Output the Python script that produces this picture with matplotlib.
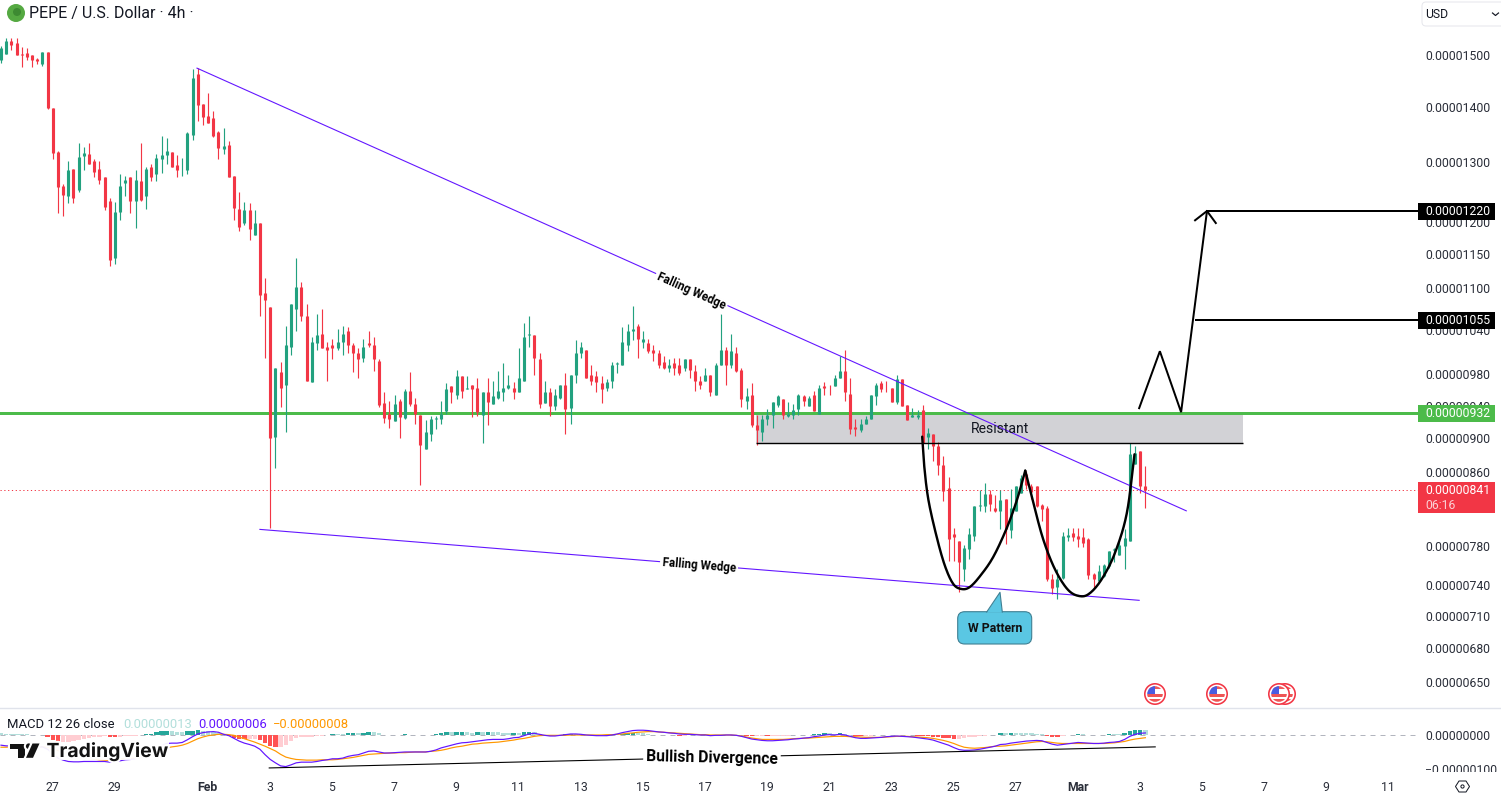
import numpy as np
import matplotlib
matplotlib.use("Agg")
import matplotlib.pyplot as plt
import matplotlib.patheffects as pe
from matplotlib.patches import Circle, Rectangle, Polygon, FancyBboxPatch
from matplotlib.ticker import NullLocator, FixedFormatter
from matplotlib.transforms import Bbox, ScaledTranslation

plt.rcParams['font.family'] = ['Roboto', 'DejaVu Sans']

# Prices in units of 0.00000001 USD, one entry per 4h bar
opens = [1492,1505,1531,1527,1504,1506,1502,1494,1484,1508,
1399,1320,1262,1245,1291,1255,1313,1316,1305,1291,
1277,1236,1146,1218,1267,1276,1236,1270,1245,1294,
1281,1308,1315,1320,1297,1288,1289,1351,1465,1407,
1385,1381,1356,1326,1333,1279,1223,1201,1222,1182,
1201,1093,1073,903,984,967,1018,1070,1102,1061,
971,1023,1036,1018,1020,1016,1025,1039,1021,1009,
1003,1023,1020,999,945,931,922,947,926,960,
943,929,888,906,925,924,935,966,954,979,
962,967,963,929,959,943,951,958,964,964,
959,973,1034,1034,1002,945,958,941,951,967,
938,981,1010,1013,980,979,970,964,973,995,
994,1021,1039,1046,1024,1023,1014,1010,998,990,
996,994,989,1001,985,973,973,980,954,993,
1013,993,1010,987,947,954,917,909,925,930,
942,950,928,929,937,953,941,955,931,966,
968,966,976,985,956,915,911,918,925,953,
970,964,964,946,975,942,927,927,936,903,
906,892,870,843,793,786,757,777,791,823,
823,837,821,818,831,797,818,838,859,846,
845,824,821,747,739,748,790,794,791,790,
788,752,745,750,760,776,771,781,786,871,
886,846]
highs = [1521,1537,1537,1537,1519,1517,1502,1496,1508,1508,
1400,1322,1265,1305,1291,1335,1329,1335,1308,1305,
1277,1242,1235,1282,1279,1276,1288,1335,1293,1299,
1316,1349,1344,1320,1315,1310,1356,1475,1477,1407,
1428,1394,1358,1362,1340,1279,1252,1235,1233,1222,
1201,1116,1073,990,997,1047,1078,1146,1110,1078,
1032,1063,1070,1025,1028,1042,1046,1045,1023,1016,
1029,1039,1032,1002,958,947,954,949,962,984,
951,929,923,928,928,947,970,966,987,979,
979,967,976,959,976,972,985,996,980,971,
1016,1051,1060,1034,1010,972,963,962,967,983,
981,1027,1025,1014,993,985,979,975,997,997,
1045,1049,1075,1049,1039,1029,1021,1014,1005,1001,
1003,1003,1002,1001,993,979,989,980,996,1068,
1018,1035,1018,989,963,970,929,929,937,946,
955,950,946,943,956,954,953,960,967,971,
968,981,1006,1014,976,925,925,928,954,970,
973,972,964,980,975,942,938,936,942,913,
906,897,880,856,800,786,782,800,823,841,
849,841,836,841,831,842,845,858,863,848,
846,826,823,752,757,795,800,800,800,799,
789,753,761,762,775,778,785,798,895,892,
886,868]
lows = [1486,1505,1512,1502,1478,1492,1478,1484,1481,1398,
1308,1217,1212,1233,1233,1252,1288,1299,1277,1264,
1222,1134,1137,1206,1245,1217,1193,1236,1223,1270,
1270,1284,1299,1293,1276,1279,1281,1342,1376,1369,
1372,1346,1307,1316,1277,1206,1188,1198,1174,1182,
1060,1003,800,866,939,909,1007,1040,1054,972,
971,1014,1016,973,1002,1014,1007,1009,984,977,
998,1018,985,939,920,914,922,901,924,941,
918,847,888,898,912,918,931,945,950,951,
962,927,928,895,917,943,950,947,962,949,
959,973,1018,980,938,945,928,936,949,906,
918,970,1003,977,967,958,945,960,964,983,
994,1012,1027,1003,1016,1010,999,989,988,984,
981,981,985,976,960,962,972,953,954,993,
968,989,984,939,937,915,893,898,917,913,
939,924,927,924,929,941,941,935,931,955,
955,966,976,947,906,904,909,918,925,942,
959,959,946,943,941,923,927,924,895,888,
874,858,829,765,765,734,745,767,786,818,
817,818,817,798,783,789,818,838,842,831,
822,807,745,732,727,747,786,786,780,780,
747,738,745,749,758,764,771,757,786,871,
838,821]
closes = [1517,1531,1523,1502,1502,1498,1492,1490,1508,1399,
1318,1260,1247,1289,1242,1311,1318,1299,1286,1272,
1226,1143,1218,1262,1272,1236,1272,1238,1291,1277,
1310,1315,1322,1293,1288,1289,1353,1457,1405,1383,
1372,1349,1327,1331,1277,1225,1195,1222,1191,1200,
1091,1084,901,990,964,1021,1078,1103,1060,972,
1024,1034,1016,1014,1016,1024,1035,1020,1010,1001,
1018,1020,1001,942,926,924,943,927,960,943,
931,893,909,924,926,931,962,958,979,960,
964,962,933,959,946,953,960,964,967,958,
977,1032,1035,1003,943,958,941,954,967,937,
980,1009,1018,977,972,971,962,971,994,996,
1024,1040,1043,1029,1028,1012,1009,993,990,994,
990,983,1002,987,973,967,980,958,993,1014,
993,1012,985,949,953,917,911,925,930,946,
953,930,931,936,955,947,951,935,964,964,
967,976,985,958,912,912,919,924,954,967,
962,963,946,975,941,923,929,929,895,907,
892,869,840,788,790,764,778,793,823,824,
837,826,818,830,798,821,845,855,847,839,
823,820,747,738,747,791,792,790,788,784,
751,747,755,761,775,777,782,789,882,884,
845,841]

macd_line = [-30,-32,-32,-33,-33,-33,-34,-35,-35,-42,
-55,-68,-74,-78,-79,-79,-78,-78,-78,-78,
-78,-80,-78,-76,-73,-72,-70,-66,-60,-52,
-42,-32,-25,-24,-24,-22,-14,-5,3,7,
9,10,8,2,-2,-10,-18,-24,-28,-33,
-42,-58,-72,-82,-91,-93,-88,-82,-80,-80,
-80,-78,-75,-73,-70,-70,-68,-63,-60,-58,
-53,-48,-47,-50,-53,-53,-52,-51,-50,-50,
-50,-50,-50,-48,-44,-38,-34,-30,-26,-23,
-22,-20,-18,-16,-14,-13,-13,-13,-11,-8,
-7,-2,3,5,2,-1,-3,-3,-1,1,
3,3,2,0,-1,-2,-2,-2,0,3,
7,10,13,14,14,13,11,9,8,6,
5,3,2,2,1,0,0,-2,-1,-1,
0,0,-1,-4,-8,-12,-14,-16,-17,-17,
-16,-15,-14,-12,-11,-9,-8,-5,-3,0,
1,0,2,0,-4,-8,-10,-10,-9,-8,
-7,-5,-4,-3,-4,-5,-6,-8,-10,-12,
-15,-20,-25,-30,-37,-43,-45,-45,-44,-42,
-39,-36,-33,-28,-27,-24,-22,-20,-18,-17,
-16,-17,-22,-27,-30,-28,-26,-24,-22,-23,
-24,-25,-25,-24,-22,-21,-19,-13,-4,2,
5,6]
signal_line = [-36,-36,-35,-35,-35,-35,-35,-35,-35,-36,
-40,-46,-52,-57,-61,-65,-67,-69,-71,-73,
-74,-75,-72,-71,-70,-69,-68,-66,-62,-56,
-50,-44,-38,-35,-33,-30,-25,-18,-11,-6,
-2,0,2,2,1,-1,-6,-11,-16,-21,
-27,-33,-40,-47,-57,-65,-69,-72,-73,-74,
-74,-74,-73,-73,-73,-72,-70,-68,-66,-63,
-60,-57,-56,-55,-54,-53,-53,-52,-52,-51,
-50,-50,-50,-48,-47,-45,-42,-38,-35,-33,
-30,-27,-26,-24,-23,-22,-21,-19,-17,-15,
-12,-10,-7,-4,-2,-1,-1,-1,-1,-1,
0,0,0,0,0,0,0,1,1,2,
3,5,6,8,9,10,10,9,8,7,
6,5,4,3,2,1,1,0,0,0,
0,0,-1,-3,-6,-9,-11,-13,-13,-13,
-13,-13,-12,-11,-10,-10,-9,-8,-7,-6,
-5,-4,-4,-4,-5,-5,-6,-7,-7,-7,
-7,-6,-5,-4,-4,-4,-5,-6,-7,-8,
-10,-13,-16,-20,-25,-31,-36,-38,-39,-38,
-37,-35,-33,-33,-32,-30,-28,-26,-24,-22,
-20,-19,-20,-22,-24,-25,-25,-25,-25,-25,
-25,-25,-25,-25,-24,-23,-21,-19,-15,-12,
-10,-8]

price_ticks = [1500,1400,1300,1200,1150,1100,1040,980,940,900,860,780,740,710,680,650]
macd_ticks = [0,-100]
date_bars = [10,22,40,52,64,76,88,100,112,124,136,148,160,172,184,196,208,220,232,244,256,268]
date_labels = ['27','29','Feb','3','5','7','9','11','13','15','17','19','21','23','25','27','Mar','3','5','7','9','11']

last_price = 841
resistance = 932
zone_low = 895
target_one = 1055
target_two = 1220

UP = '#22a17f'
DOWN = '#f23645'
PURPLE = '#6316ff'
ORANGE = '#ff9800'
TXT = '#2a2e39'

W, H = 1501, 797
fig = plt.figure(figsize=(W/100, H/100), dpi=100, facecolor='white')
ax = fig.add_axes([0, (H-708)/H, 1418/W, 708/H])
am = fig.add_axes([0, (H-771)/H, 1418/W, 62/H])
ov = fig.add_axes([0, 0, 1, 1], facecolor='none', zorder=10)
ov.set_xlim(0, W); ov.set_ylim(H, 0); ov.axis('off')
PX = 0.72

# ---------- price pane ----------
bars = np.arange(len(opens))
o, h, l, c = map(np.array, (opens, highs, lows, closes))
up = c >= o
ax.set_yscale('log')
ax.set_xlim(-0.193, 273.65)
ax.set_ylim(628.9, 1616.4)
for s in ax.spines.values():
    s.set_visible(False)
ax.set_xticks([])

ax.fill_between([145.9, 239.9], zone_low, resistance, color='#d2d2d6', lw=0, zorder=1)
ax.plot([145.9, 239.9], [zone_low, zone_low], color='black', lw=1.4*PX, zorder=6, solid_capstyle='butt')
cols = np.where(up, UP, DOWN)
ax.vlines(bars, l, h, colors=cols, lw=1.15*PX, zorder=3)
ax.vlines(bars, np.minimum(o, c), np.maximum(o, c), colors=cols, lw=3.1*PX, zorder=3.1, capstyle='butt')
ax.axhline(resistance, color='#4cbb4a', lw=3*PX, zorder=2.5)
ax.axhline(last_price, color=DOWN, lw=1*PX, ls=(0, (1.2, 2.6)), zorder=2.5)

ax.plot([37.85, 228.9], [1476, 818], color=PURPLE, lw=1.1*PX, zorder=5)
ax.plot([50, 219.8], [798, 726], color=PURPLE, lw=1.1*PX, zorder=5)
wedge = dict(fontsize=11.6*PX, fontweight='bold', color='black', ha='center', va='center',
             rotation_mode='anchor', zorder=7, bbox=dict(fc='white', ec='none', pad=1.6))
ax.text(133.25, 1096, 'Falling Wedge', rotation=-24.1, **wedge)
ax.text(134.8, 761, 'Falling Wedge', rotation=-4.6, **wedge)
ax.text(192.9, 912, 'Resistant', fontsize=14*PX, color='#131722', ha='center', va='center', zorder=7)


def smooth(xs, ys, n=14):
    # Catmull-Rom through the hand-read points of a drawing, in log price
    xs = np.array(xs, float); ys = np.log(np.array(ys, float))
    px = np.r_[2*xs[0]-xs[1], xs, 2*xs[-1]-xs[-2]]
    py = np.r_[2*ys[0]-ys[1], ys, 2*ys[-1]-ys[-2]]
    ox, oy = [], []
    for i in range(1, len(px)-2):
        t = np.linspace(0, 1, n, endpoint=False)
        for arr, out in ((px, ox), (py, oy)):
            a, b, cc, d = arr[i-1:i+3]
            out.extend(0.5*(2*b+(cc-a)*t+(2*a-5*b+4*cc-d)*t**2+(3*b-a-3*cc+d)*t**3))
    ox.append(xs[-1]); oy.append(ys[-1])
    return np.array(ox), np.exp(oy)


first_bar = [177.9,178.3,179.1,180.7,182.3,183.9,185.5,187.1,189.1,191.6,194.2,196.2,197.8]
first_val = [903,868,830,790,760,742,737,739,750,769,799,830,863]
second_bar = [197.8,199.4,201.3,203.6,206.1,208.4,210.3,212.6,215.1,217.4,218.9]
second_val = [863,826,787,756,736,730,733,747,773,815,882]
for xs, ys in ((first_bar, first_val), (second_bar, second_val)):
    sx, sy = smooth(xs, ys)
    ax.plot(sx, sy, color='black', lw=2.4*PX, zorder=6, solid_capstyle='round')

ax.plot([219.8, 223.8, 227.9, 232.9], [938, 1012, 933, target_two], color='black', lw=2*PX, zorder=6, solid_joinstyle='miter')
ax.plot([230.6, 232.9, 234.6], [1205, target_two, 1200.6], color='black', lw=2*PX, zorder=6)
ax.plot([232.9, 273.65], [target_two, target_two], color='black', lw=2*PX, zorder=6)
ax.plot([230.8, 273.65], [target_one, target_one], color='black', lw=2*PX, zorder=6)

ax.set_yticks(price_ticks)
ax.yaxis.set_major_formatter(FixedFormatter([f'0.{v:08d}' for v in price_ticks]))
ax.yaxis.set_minor_locator(NullLocator())
ax.yaxis.tick_right()
ax.tick_params(axis='y', which='both', length=0, pad=7*PX, labelsize=12.2*PX, labelcolor=TXT)
nudge = ScaledTranslation(0, 1/100, fig.dpi_scale_trans)
for lab in ax.get_yticklabels():
    lab.set_transform(lab.get_transform() + nudge)

# ---------- MACD pane ----------
ml, sl = np.array(macd_line), np.array(signal_line)
hist = ml - sl
prev = np.r_[hist[0], hist[:-1]]
hcols = [('#26a69a' if v > p else '#b2dfdb') if v >= 0 else ('#ff5252' if v < p else '#ffcdd2')
         for v, p in zip(hist, prev)]
am.set_xlim(-0.193, 273.65)
am.set_ylim(-106, 76.5)
for s in am.spines.values():
    s.set_visible(False)
am.axhline(0, color='#b2b5be', lw=1*PX, ls=(0, (5, 5)), zorder=1)
am.bar(bars, hist, width=0.86, color=hcols, lw=0, zorder=2)
am.plot(bars, sl, color=ORANGE, lw=1.2*PX, zorder=3)
am.plot(bars, ml, color=PURPLE, lw=1.2*PX, zorder=3.1)
am.plot([51.8, 222.9], [-97, -35], color='black', lw=1.1*PX, zorder=4)
am.text(137.3, -67, 'Bullish Divergence', rotation=-1.3, rotation_mode='anchor', ha='center', va='center',
        fontsize=15.8*PX, fontweight='bold', color='black', zorder=5,
        bbox=dict(fc='white', ec='none', pad=2))
am.set_yticks(macd_ticks)
am.set_yticklabels(['0.00000000', '\u22120.00000100'])
am.yaxis.tick_right()
am.tick_params(axis='y', length=0, pad=7*PX, labelsize=12.2*PX, labelcolor=TXT)
clip = Bbox([[0, H-772], [W, H]])
for lab in am.get_yticklabels():
    lab.set_clip_box(clip)
    lab.set_clip_on(True)

am.set_xticks(np.array(date_bars) - 0.1)
am.set_xticklabels(date_labels)
am.tick_params(axis='x', length=0, pad=10*PX, labelsize=12.2*PX, labelcolor=TXT)
for lab, t in zip(am.get_xticklabels(), date_labels):
    if t in ('Feb', 'Mar'):
        lab.set_fontweight('bold')

# ---------- furniture in pixel coordinates ----------
ov.plot([0, W], [708, 708], color='#e0e3eb', lw=1.4*PX)
ov.text(7, 724, 'MACD 12 26 close', fontsize=13*PX, color='#131722', va='center')
ov.text(123, 724, '0.00000013', fontsize=13*PX, color='#b2dfdb', va='center')
ov.text(198, 724, '0.00000006', fontsize=13*PX, color=PURPLE, va='center')
ov.text(273, 724, '\u22120.00000008', fontsize=13*PX, color=ORANGE, va='center')

# header
ov.add_patch(Circle((16, 13), 9, fc='#55a942', ec='none'))
ov.add_patch(Circle((17, 12), 4, fc='#3d8a32', ec='none'))
ov.text(29, 13.5, 'PEPE / U.S. Dollar \u00b7 4h \u00b7', fontsize=16*PX, color='#131722', va='center')

# currency box
ov.add_patch(FancyBboxPatch((1422, 2), 90, 24, boxstyle='round,pad=0,rounding_size=4', fc='white', ec='#e6e7ec', lw=1*PX))
ov.text(1425.5, 14, 'USD', fontsize=12.2*PX, color='#131722', va='center')
ov.plot([1492.5, 1495.5, 1498.5], [13, 15.5, 13], color='#131722', lw=1.2*PX)

# price flags
flags = [(203, 220, 'black', '0.00001220'), (312, 328.5, 'black', '0.00001055'), (405, 421.5, '#4cbb4a', '0.00000932')]
for y0, y1, col, lab in flags:
    ov.add_patch(Rectangle((1418, y0), 77, y1-y0, fc=col, ec='none'))
    ov.text(1425.5, (y0+y1)/2+0.3, lab, fontsize=12.2*PX, color='white', va='center')
ov.add_patch(Rectangle((1418, 482), 77, 31, fc=DOWN, ec='none'))
ov.text(1425.5, 490.5, '0.00000841', fontsize=12.2*PX, color='white', va='center')
ov.text(1425.5, 505, '06:16', fontsize=12.2*PX, color='#fbd0d5', va='center')

# callout
ov.add_patch(FancyBboxPatch((957.7, 611.7), 74, 32.3, boxstyle='round,pad=0,rounding_size=7',
                            fc='#5ac7e3', ec='#3f7f92', lw=1.1*PX))
ov.add_patch(Polygon([(986.7, 612.5), (1000, 592.3), (1002.3, 612.5)], fc='#5ac7e3', ec='none'))
ov.plot([986.7, 1000, 1002.3], [612, 592.3, 612], color='#3f7f92', lw=1.1*PX)
ov.text(995, 628, 'W Pattern', fontsize=12.2*PX, fontweight='bold', color='#111111', ha='center', va='center')


# event icons
def us_flag(cx, cy):
    ring = Circle((cx, cy), 10.2, fc='white', ec=DOWN, lw=1.6*PX)
    ov.add_patch(ring)
    inner = Circle((cx, cy), 7.8, transform=ov.transData, fc='white', ec='none')
    ov.add_patch(inner)
    for x, y, w, hh, col in ((cx-8, cy-8, 16, 2.5, '#f05a5a'), (cx-8, cy, 16, 3, '#ee5555'),
                             (cx-8, cy+5, 16, 3.2, '#ee5555'), (cx-8, cy-8, 8.2, 8.2, '#4a5be0')):
        r = Rectangle((x, y), w, hh, fc=col, ec='none')
        ov.add_patch(r)
        r.set_clip_path(inner)


for cx in (1285, 1279, 1217, 1155):
    us_flag(cx, 694)

# settings hexagon
hx, hy = 1462.5, 786.5
ov.add_patch(Polygon([(hx-7, hy), (hx-3.5, hy-5.5), (hx+3.5, hy-5.5), (hx+7, hy), (hx+3.5, hy+5.5), (hx-3.5, hy+5.5)],
                     fc='white', ec='#131722', lw=1*PX))
ov.add_patch(Circle((hx, hy), 1.6, fc='white', ec='#131722', lw=1*PX))

# watermark
ov.add_patch(Rectangle((9, 742), 160, 18, fc='white', ec='none', alpha=0.93))
halo = [pe.withStroke(linewidth=3, foreground='white')]
wm = [Polygon([(10, 743.5), (25, 743.5), (25, 757.8), (17.5, 757.8), (17.5, 749), (10, 749)], fc='#131313', ec='none'),
      Circle((28.7, 746.2), 2.8, fc='#131313', ec='none'),
      Polygon([(32.5, 743.5), (39.5, 743.5), (33, 757.8), (26, 757.8)], fc='#131313', ec='none')]
for p in wm:
    p.set_path_effects(halo)
    ov.add_patch(p)
t = ov.text(46.5, 757, 'TradingView', fontsize=19.4*PX, fontweight='bold', family='Inter', color='#131313', va='baseline')
t.set_path_effects(halo)

fig.savefig('out.png', dpi=100, facecolor='white')
